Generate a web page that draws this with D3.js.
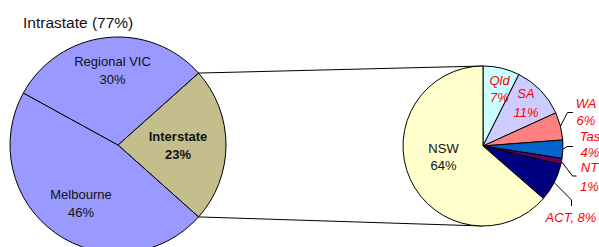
<!DOCTYPE html>
<html>
<head>
<meta charset="utf-8">
<script src="https://cdn.jsdelivr.net/npm/d3@7"></script>
<style>
  html, body { margin: 0; padding: 0; background: #fff; }
  svg { display: block; font-family: "Liberation Sans", Arial, sans-serif; }
</style>
</head>
<body>
<svg id="chart" width="599" height="247"></svg>
<script>
// ---- Data ----
const mainCategories = ["Interstate", "Melbourne", "Regional VIC"];
const mainValues = [23.2, 46.4, 30.4];
const mainLabels = ["23%", "46%", "30%"];

const subCategories = ["Qld", "SA", "WA", "Tas", "NT", "ACT", "NSW"];
const subValues = [7.4, 10.8, 5.6, 3.7, 1.2, 7.7, 63.6];
const subLabels = ["7%", "11%", "6%", "4%", "1%", "8%", "64%"];

const titleText = "Intrastate (77%)";

// ---- Styles / layout ----
const mainColors = ["#C3BE8C", "#9999FF", "#9999FF"];
const subColors = ["#CCFFFF", "#CCCCFF", "#FF8080", "#0066CC", "#660066", "#000080", "#FFFFCC"];

const svg = d3.select("#chart");
const main = { cx: 118, cy: 145, r: 108 };
const sub = { cx: 483, cy: 146, r: 80 };

// Title
svg.append("text").attr("x", 23).attr("y", 28)
  .attr("font-size", "15.5px").attr("fill", "#111")
  .text(titleText);

// ---- Main pie ----
const total = d3.sum(mainValues);
const startMain = Math.PI / 2 - (mainValues[0] / total) * Math.PI;
const pieMain = d3.pie().sort(null).startAngle(startMain).endAngle(startMain + 2 * Math.PI);
const arcsMain = pieMain(mainValues);
const arcMain = d3.arc().innerRadius(0).outerRadius(main.r);

const gMain = svg.append("g").attr("transform", `translate(${main.cx},${main.cy})`);
gMain.selectAll("path").data(arcsMain).enter().append("path")
  .attr("d", arcMain)
  .attr("fill", (d, i) => mainColors[i])
  .attr("stroke", "#000").attr("stroke-width", 1);

// Main labels (layout positions relative to pie centre)
const mainLabelPos = [
  { x: 60, y: -4, bold: true },   // Interstate
  { x: -37, y: 54, bold: false }, // Melbourne
  { x: -5.5, y: -79, bold: false } // Regional VIC
];
mainCategories.forEach((c, i) => {
  const p = mainLabelPos[i];
  const t = gMain.append("text")
    .attr("text-anchor", "middle")
    .attr("font-size", "13px")
    .attr("font-weight", p.bold ? "bold" : "normal")
    .attr("fill", "#111");
  t.append("tspan").attr("x", p.x).attr("y", p.y).text(c);
  t.append("tspan").attr("x", p.x).attr("y", p.y + 17.5).text(mainLabels[i]);
});

// ---- Connector lines ----
const interArc = arcsMain[0];
const pt = (cx, cy, r, a) => [cx + r * Math.sin(a), cy - r * Math.cos(a)];
const pTop = pt(main.cx, main.cy, main.r, interArc.startAngle);
const pBot = pt(main.cx, main.cy, main.r, interArc.endAngle);
svg.append("line")
  .attr("x1", pTop[0]).attr("y1", pTop[1])
  .attr("x2", sub.cx).attr("y2", sub.cy - sub.r)
  .attr("stroke", "#000").attr("stroke-width", 1);
svg.append("line")
  .attr("x1", pBot[0]).attr("y1", pBot[1])
  .attr("x2", sub.cx).attr("y2", sub.cy + sub.r)
  .attr("stroke", "#000").attr("stroke-width", 1);

// ---- Sub pie ----
const pieSub = d3.pie().sort(null).startAngle(0).endAngle(2 * Math.PI);
const arcsSub = pieSub(subValues);
const arcSub = d3.arc().innerRadius(0).outerRadius(sub.r);
const gSub = svg.append("g").attr("transform", `translate(${sub.cx},${sub.cy})`);
gSub.selectAll("path").data(arcsSub).enter().append("path")
  .attr("d", arcSub)
  .attr("fill", (d, i) => subColors[i])
  .attr("stroke", "#000").attr("stroke-width", 1);

// Sub labels layout (absolute label positions; leader bend points where used)
const subLabelLayout = [
  { x: 499.5, y: 85, two: true, color: "#FF0000", italic: true },            // Qld
  { x: 526, y: 98, two: true, color: "#FF0000", italic: true, dy: 19 },      // SA
  { x: 586, y: 107.5, two: true, color: "#FF0000", italic: true, leader: [[567.5, 112.5], [573, 112.5]] }, // WA
  { x: 590, y: 141, two: true, color: "#FF0000", italic: true, dy: 15.5, leader: [[567, 146.5], [573, 146.5]] },  // Tas
  { x: 589.5, y: 172, two: true, color: "#FF0000", italic: true, dy: 18.5, leader: [[572.5, 176], [576.5, 176]] }, // NT
  { x: 571, y: 221.5, two: false, color: "#FF0000", italic: true, leader: [[571.5, 200], [571.5, 206]] }, // ACT
  { x: 443.5, y: 152.5, two: true, color: "#111", italic: false }           // NSW
];
subCategories.forEach((c, i) => {
  const L = subLabelLayout[i];
  if (L.leader) {
    const a = (arcsSub[i].startAngle + arcsSub[i].endAngle) / 2;
    const e = pt(sub.cx, sub.cy, sub.r, a);
    const pts = [e].concat(L.leader);
    svg.append("path")
      .attr("d", d3.line()(pts))
      .attr("fill", "none").attr("stroke", "#000").attr("stroke-width", 1);
  }
  const t = svg.append("text")
    .attr("text-anchor", "middle")
    .attr("font-size", "13px")
    .attr("font-style", L.italic ? "italic" : "normal")
    .attr("fill", L.color);
  if (L.two) {
    t.append("tspan").attr("x", L.x).attr("y", L.y).text(c);
    t.append("tspan").attr("x", L.x).attr("y", L.y + (L.dy || 17)).text(subLabels[i]);
  } else {
    t.append("tspan").attr("x", L.x).attr("y", L.y).text(c + ", " + subLabels[i]);
  }
});
</script>
</body>
</html>
